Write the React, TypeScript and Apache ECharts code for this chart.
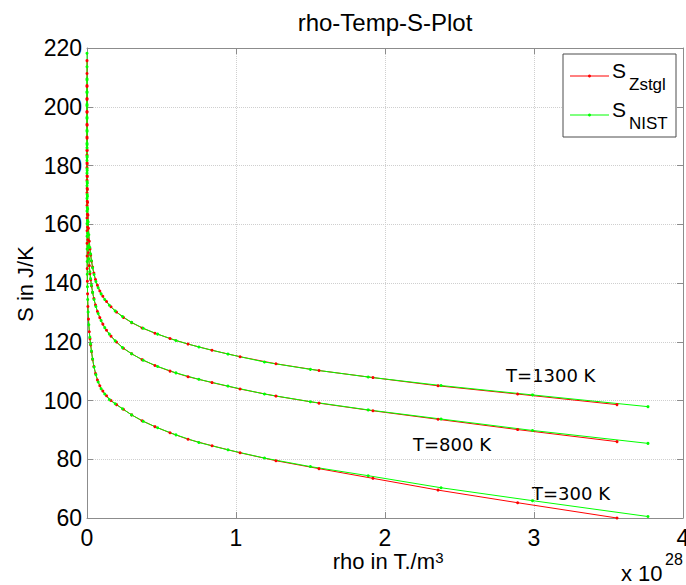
import React, { useEffect, useRef } from "react";
import * as echarts from "echarts";

// rho values (in units of 1e28 T./m^3) of the S_Zstgl samples
const redX = [
  3.557, 2.89, 2.356, 1.919, 1.557, 1.268, 1.027, 0.839, 0.678, 0.557, 0.456, 0.37, 0.3, 0.244,
  0.198, 0.161, 0.131, 0.106, 0.086, 0.07, 0.057, 0.046, 0.0375, 0.0305, 0.0248, 0.02,
  0.0155, 0.0097, 0.006, 0.0038, 0.0024, 0.0015, 0.00095, 0.0006, 0.00038, 0.00024, 0.00015,
  0.000095, 0.00006, 0.000038, 0.000024,
];
// rho values of the S_NIST samples
const greenX = [
  3.765, 2.99, 2.376, 1.887, 1.499, 1.191, 0.946, 0.751, 0.597, 0.474, 0.377, 0.299, 0.238,
  0.189, 0.15, 0.119, 0.0946, 0.0751, 0.0597, 0.0474, 0.0377, 0.0299, 0.0238, 0.0189,
  0.012, 0.0075, 0.0047, 0.003, 0.0019, 0.0012, 0.00075, 0.00047, 0.0003, 0.00019, 0.00012,
  0.000075, 0.000047, 0.00003, 0.000019,
];

const zstgl1300 = [
  98.6, 102.2, 105.0, 107.8, 110.2, 112.5, 114.9, 117.1, 119.2, 121.1, 122.9, 124.7, 126.5, 128.3,
  130.1, 131.9, 133.7, 135.5, 137.3, 139.2, 141.2, 143.4, 145.4, 147.4, 149.5, 151.6,
  154.2, 158.6, 163.1, 167.4, 171.8, 176.2, 180.5, 185.0, 189.3, 193.7, 198.1, 202.5, 206.9, 211.3, 215.7,
];
const zstgl800 = [
  86.0, 90.1, 93.6, 96.5, 99.1, 101.5, 103.9, 106.1, 108.1, 110.0, 111.9, 113.9, 115.9, 117.8,
  119.9, 121.9, 123.9, 126.0, 128.2, 130.3, 132.5, 134.7, 136.8, 139.0, 141.1, 143.2,
  145.9, 150.3, 154.7, 159.0, 163.4, 167.8, 172.2, 176.5, 180.9, 185.3, 189.7, 194.0, 198.4, 202.8, 207.2,
];
const zstgl300 = [
  60.0, 65.2, 69.5, 73.5, 76.8, 79.5, 82.2, 84.6, 86.8, 89.0, 91.1, 93.1, 95.1, 97.0,
  98.6, 100.0, 101.6, 103.2, 105.0, 107.0, 109.2, 111.6, 114.0, 116.6, 118.9, 121.0,
  123.4, 127.7, 132.0, 136.3, 140.6, 144.9, 149.2, 153.5, 157.8, 162.1, 166.4, 170.7, 175.0, 179.3, 183.6,
];
const nist1300 = [
  97.9, 101.9, 105.1, 108.0, 110.6, 113.1, 115.8, 118.2, 120.4, 122.6, 124.6, 126.6, 128.6,
  130.5, 132.4, 134.4, 136.3, 138.4, 140.5, 142.9, 145.2, 147.6, 149.9, 152.1,
  156.4, 160.8, 165.2, 169.5, 174.0, 178.3, 182.8, 187.1, 191.6, 196.0, 200.3, 204.8, 209.1, 213.6, 218.2,
];
const nist800 = [
  85.4, 89.8, 93.7, 96.8, 99.6, 102.2, 104.9, 107.2, 109.4, 111.6, 113.7, 115.9, 118.0,
  120.3, 122.6, 124.8, 127.2, 129.6, 132.0, 134.4, 136.8, 139.2, 141.5, 143.8,
  148.2, 152.6, 157.0, 161.3, 165.7, 170.1, 174.5, 178.9, 183.2, 187.6, 192.0, 196.4, 200.8, 205.1, 209.5,
];
const nist300 = [
  60.5, 65.9, 70.3, 74.4, 77.5, 80.4, 83.2, 85.7, 88.3, 90.7, 92.9, 95.1, 97.2,
  98.9, 100.3, 102.2, 104.0, 106.3, 108.8, 111.4, 114.1, 116.8, 119.2, 121.5,
  125.8, 130.1, 134.4, 138.7, 143.0, 147.3, 151.6, 155.9, 160.2, 164.5, 168.8, 173.1, 177.4, 181.7, 186.0,
];

const xRange = [0, 4];
const yRange = [60, 220];
const titleText = "rho-Temp-S-Plot";
const legendNames = ["Zstgl", "NIST"];
const tempLabels = ["T=1300 K", "T=800 K", "T=300 K"];

const RED = "#ff0000";
const GREEN = "#00ff00";
const FONT = '"Liberation Sans", Arial, Helvetica, sans-serif';
const ANNOT_FONT = '"DejaVu Sans", sans-serif';
const AXIS_GRAY = "#8c8c8c";

function pairs(xs: number[], ys: number[]) {
  return xs.map((x, i) => [x, ys[i]]);
}

function lineSeries(name: string, color: string, xs: number[], ys: number[]) {
  return {
    type: "line",
    name,
    data: pairs(xs, ys),
    xAxisIndex: 0,
    yAxisIndex: 0,
    symbol: "circle",
    symbolSize: 3,
    showSymbol: true,
    lineStyle: { color, width: 1 },
    itemStyle: { color },
    emphasis: { disabled: true },
    silent: true,
  };
}

export default function App() {
  const ref = useRef<HTMLDivElement>(null);
  useEffect(() => {
    if (!ref.current) return;
    const chart = echarts.init(ref.current, undefined, { renderer: "svg" });
    const baseAxis = {
      axisLine: { show: true, onZero: false, lineStyle: { color: AXIS_GRAY, width: 1 } },
      axisTick: { show: true, inside: true, length: 6, lineStyle: { color: AXIS_GRAY } },
    };
    const annot = (text: string, x: number, y: number) => ({
      type: "text",
      x,
      y,
      style: { text, fontSize: 18, fontFamily: ANNOT_FONT, fill: "#000", align: "left", verticalAlign: "middle" },
    });
    chart.setOption({
      animation: false,
      backgroundColor: "#ffffff",
      grid: { left: 87, top: 48, right: 3, bottom: 67, containLabel: false, outerBoundsMode: "none" },
      xAxis: [
        {
          type: "value",
          min: xRange[0],
          max: xRange[1],
          interval: 1,
          position: "bottom",
          ...baseAxis,
          axisLabel: { color: "#000", fontSize: 23, fontFamily: FONT, margin: 8 },
          splitLine: { show: true, lineStyle: { type: "dotted", color: "#cfcfcf" } },
        },
        {
          type: "value",
          min: xRange[0],
          max: xRange[1],
          interval: 1,
          position: "top",
          ...baseAxis,
          axisLabel: { show: false },
          splitLine: { show: false },
        },
      ],
      yAxis: [
        {
          type: "value",
          min: yRange[0],
          max: yRange[1],
          interval: 20,
          position: "left",
          ...baseAxis,
          axisLabel: { color: "#000", fontSize: 23, fontFamily: FONT, margin: 5 },
          splitLine: { show: true, lineStyle: { type: "dotted", color: "#cfcfcf" } },
        },
        {
          type: "value",
          min: yRange[0],
          max: yRange[1],
          interval: 20,
          position: "right",
          ...baseAxis,
          axisLabel: { show: false },
          splitLine: { show: false },
        },
      ],
      series: [
        lineSeries("S_Zstgl 1300", RED, redX, zstgl1300),
        lineSeries("S_Zstgl 800", RED, redX, zstgl800),
        lineSeries("S_Zstgl 300", RED, redX, zstgl300),
        lineSeries("S_NIST 1300", GREEN, greenX, nist1300),
        lineSeries("S_NIST 800", GREEN, greenX, nist800),
        lineSeries("S_NIST 300", GREEN, greenX, nist300),
      ],
      graphic: [
        {
          type: "text",
          x: 385,
          y: 22,
          style: { text: titleText, fontSize: 24, fontFamily: FONT, fill: "#000", align: "center", verticalAlign: "middle" },
        },
        {
          type: "text",
          x: 25,
          y: 284,
          rotation: Math.PI / 2,
          style: { text: "S in J/K", fontSize: 22, fontFamily: FONT, fill: "#000", align: "center", verticalAlign: "middle" },
        },
        {
          type: "text",
          x: 388,
          y: 561,
          style: {
            text: "{a|rho in T./m}{b|3}",
            fill: "#000",
            align: "center",
            verticalAlign: "middle",
            rich: {
              a: { fontSize: 22, fontFamily: FONT, fill: "#000" },
              b: { fontSize: 15, fontFamily: FONT, fill: "#000", verticalAlign: "top" },
            },
          },
        },
        {
          type: "text",
          x: 621,
          y: 573,
          style: { text: "x 10", fontSize: 22, fontFamily: FONT, fill: "#000", align: "left", verticalAlign: "middle" },
        },
        {
          type: "text",
          x: 665,
          y: 559,
          style: { text: "28", fontSize: 16, fontFamily: FONT, fill: "#000", align: "left", verticalAlign: "middle" },
        },
        annot(tempLabels[0], 506, 375),
        annot(tempLabels[1], 413, 444),
        annot(tempLabels[2], 532, 493),
        // legend
        {
          type: "rect",
          shape: { x: 563, y: 54, width: 113, height: 83 },
          style: { fill: "#ffffff", stroke: "#4d4d4d", lineWidth: 1 },
          z: 100,
        },
        { type: "line", shape: { x1: 570, y1: 76, x2: 609, y2: 76 }, style: { stroke: RED, lineWidth: 1 }, z: 101 },
        { type: "circle", shape: { cx: 589.5, cy: 76, r: 1.5 }, style: { fill: RED }, z: 101 },
        { type: "line", shape: { x1: 570, y1: 115, x2: 609, y2: 115 }, style: { stroke: GREEN, lineWidth: 1 }, z: 101 },
        { type: "circle", shape: { cx: 589.5, cy: 115, r: 1.5 }, style: { fill: GREEN }, z: 101 },
        {
          type: "text", x: 612, y: 70, z: 101,
          style: { text: "S", fontSize: 21, fontFamily: FONT, fill: "#000", align: "left", verticalAlign: "middle" },
        },
        {
          type: "text", x: 629, y: 84, z: 101,
          style: { text: legendNames[0], fontSize: 17, fontFamily: FONT, fill: "#000", align: "left", verticalAlign: "middle" },
        },
        {
          type: "text", x: 612, y: 109, z: 101,
          style: { text: "S", fontSize: 21, fontFamily: FONT, fill: "#000", align: "left", verticalAlign: "middle" },
        },
        {
          type: "text", x: 629, y: 123, z: 101,
          style: { text: legendNames[1], fontSize: 17, fontFamily: FONT, fill: "#000", align: "left", verticalAlign: "middle" },
        },
      ],
    });
    return () => chart.dispose();
  }, []);
  return <div ref={ref} style={{ position: "absolute", left: 0, top: 0, width: 686, height: 585 }} />;
}
